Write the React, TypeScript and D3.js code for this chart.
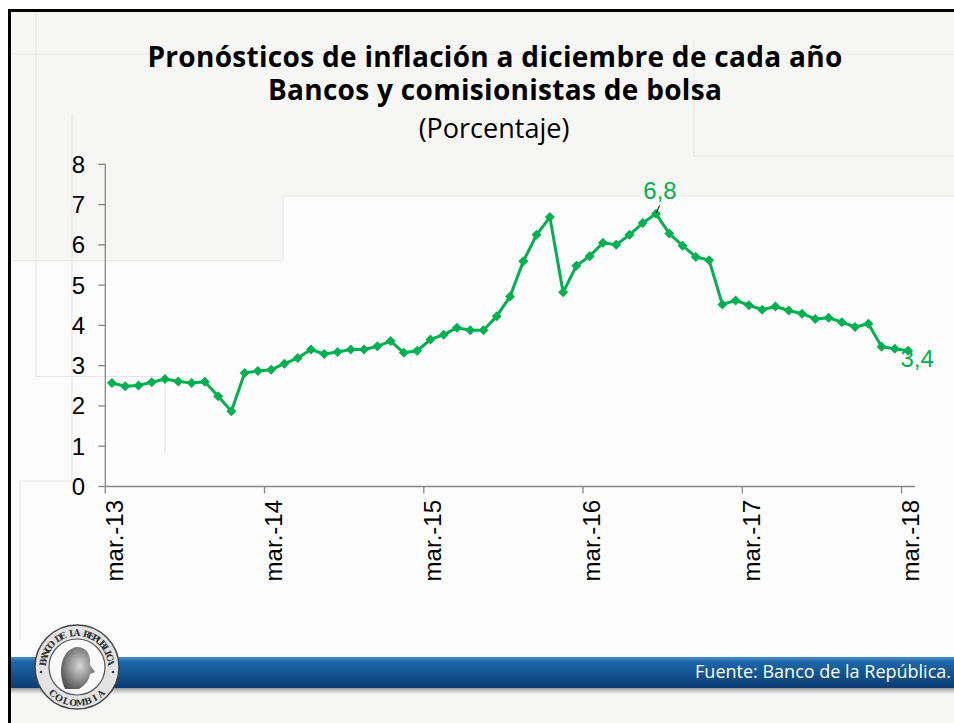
import React from "react";
import * as d3 from "d3";

// monthly observations, mar-13 .. mar-18
const months = d3.timeMonth.range(new Date(2013, 2, 1), new Date(2018, 3, 1));

const forecast = [
  2.57, 2.49, 2.51, 2.59, 2.67, 2.61, 2.57, 2.6, 2.24, 1.87, 2.82, 2.87,
  2.9, 3.05, 3.19, 3.4, 3.29, 3.34, 3.4, 3.4, 3.48, 3.61, 3.32, 3.37,
  3.65, 3.77, 3.94, 3.88, 3.88, 4.23, 4.72, 5.59, 6.25, 6.69, 4.82, 5.48,
  5.72, 6.05, 6.0, 6.25, 6.54, 6.77, 6.28, 5.98, 5.7, 5.62, 4.52, 4.62,
  4.5, 4.39, 4.47, 4.37, 4.29, 4.16, 4.19, 4.08, 3.96, 4.04, 3.47, 3.42,
  3.37,
];

const yTicks = [0, 1, 2, 3, 4, 5, 6, 7, 8];
const monthNames = ["ene.", "feb.", "mar.", "abr.", "may.", "jun.", "jul.", "ago.", "sep.", "oct.", "nov.", "dic."];
const labelledPoints = [41, 60];

const titleLines = ["Pronósticos de inflación a diciembre de cada año", "Bancos y comisionistas de bolsa"];
const subtitle = "(Porcentaje)";
const source = "Fuente: Banco de la República.";
const sealTop = "BANCO DE LA REPUBLICA";
const sealBottom = "COLOMBIA";

const W = 954;
const H = 723;
const green = "#00b050";
const axisGray = "#868686";
const faint = "#e6e6e6";

const fmtMonth = (d: Date) => `${monthNames[d.getMonth()]}-${String(d.getFullYear()).slice(2)}`;
const fmtValue = (v: number) => v.toFixed(1).replace(".", ",");

export default function App() {
  const idx = d3.range(months.length);
  const x = d3.scaleBand<number>().domain(idx).range([105.3, 914.8]);
  const y = d3.scaleLinear().domain([0, 8]).range([486.5, 164.3]);
  const cx = (i: number) => (x(i) as number) + x.bandwidth() / 2;

  const line = d3
    .line<number>()
    .x((_, i) => cx(i))
    .y((d) => y(d));

  const diamond = d3.symbol().type(d3.symbolSquare).size(50)() as string;
  const tickIdx = idx.filter((i) => months[i].getMonth() === 2);

  // seal lettering, one glyph per angle
  const lc = { x: 77, y: 667 };
  const topAngle = d3.scaleLinear().domain([0, sealTop.length - 1]).range([-82, 82]);
  const botAngle = d3.scaleLinear().domain([0, sealBottom.length - 1]).range([42, -42]);

  return (
    <svg
      width={W}
      height={H}
      style={{ position: "absolute", left: 0, top: 0 }}
      xmlns="http://www.w3.org/2000/svg"
    >
      <defs>
        <linearGradient id="band" x1="0" y1="0" x2="0" y2="1">
          <stop offset="0" stopColor="#4a8fcc" />
          <stop offset="0.15" stopColor="#1d67a9" />
          <stop offset="1" stopColor="#0b3c72" />
        </linearGradient>
        <linearGradient id="shadow" x1="0" y1="0" x2="0" y2="1">
          <stop offset="0" stopColor="#9a9a9a" />
          <stop offset="1" stopColor="#f4f4f4" />
        </linearGradient>
        <radialGradient id="head" cx="0.55" cy="0.45" r="0.6">
          <stop offset="0" stopColor="#d8d8d8" />
          <stop offset="1" stopColor="#555" />
        </radialGradient>
      </defs>

      {/* slide background */}
      <rect width={W} height={H} fill="#fff" />
      <rect x={10} y={11} width={W - 10} height={H - 11} fill="#f6f6f5" />
      <path d="M10,260 H283 V196 H954 V657 H10 Z" fill="#fcfcfc" />
      <g fill="none" stroke={faint} strokeWidth={1.2}>
        <path d="M10,260.5 H283 V196 H954" />
        <path d="M694,40 V156 H954" />
        <path d="M36,12 V376.5 H165 V452" />
        <path d="M72,114 V481 H20 V640" />
        <path d="M10,54 H954" />
      </g>
      <path d={`M9.5,${H} V10.5 H${W}`} fill="none" stroke="#000" strokeWidth={3} />

      {/* titles */}
      <g fontFamily="'Open Sans', Lato, sans-serif" textAnchor="middle" fill="#000">
        <text x={495} y={67} fontSize={28} fontWeight={700} letterSpacing={0.3}>
          {titleLines[0]}
        </text>
        <text x={495} y={100} fontSize={28} fontWeight={700} letterSpacing={0.3}>
          {titleLines[1]}
        </text>
        <text x={494} y={138} fontSize={27}>
          {subtitle}
        </text>
      </g>

      {/* y axis */}
      <g fontFamily="'Liberation Sans', Arial, sans-serif" fontSize={24} fill="#000">
        <line x1={105.3} x2={105.3} y1={y(8)} y2={y(0)} stroke={axisGray} strokeWidth={1.3} />
        {yTicks.map((t) => (
          <g key={t}>
            <line x1={98.3} x2={105.3} y1={y(t)} y2={y(t)} stroke={axisGray} strokeWidth={1.3} />
            <text x={85} y={y(t)} dy="0.35em" textAnchor="end">
              {t}
            </text>
          </g>
        ))}
      </g>

      {/* x axis */}
      <g fontFamily="'Liberation Sans', Arial, sans-serif" fontSize={24} fill="#000">
        <line x1={105.3} x2={914.8} y1={y(0)} y2={y(0)} stroke={axisGray} strokeWidth={1.3} />
        {tickIdx.map((i) => (
          <g key={i}>
            <line
              x1={x(i) as number}
              x2={x(i) as number}
              y1={y(0)}
              y2={y(0) + 7}
              stroke={axisGray}
              strokeWidth={1.3}
            />
            <text transform={`translate(${cx(i) + 10.8},500) rotate(-90)`} textAnchor="end">
              {fmtMonth(months[i])}
            </text>
          </g>
        ))}
      </g>

      {/* series */}
      <path d={line(forecast) as string} fill="none" stroke={green} strokeWidth={3} strokeLinejoin="round" />
      {forecast.map((v, i) => (
        <path key={i} d={diamond} transform={`translate(${cx(i)},${y(v)}) rotate(45)`} fill={green} />
      ))}

      {/* data labels */}
      <g fontFamily="'Liberation Sans', Arial, sans-serif" fontSize={24} fill={green} textAnchor="middle">
        <line
          x1={cx(41) + 3.5}
          y1={y(forecast[41]) - 8.5}
          x2={cx(41) + 0.5}
          y2={y(forecast[41]) - 1}
          stroke="#000"
          strokeWidth={1}
        />
        <text x={cx(labelledPoints[0]) + 4} y={y(forecast[labelledPoints[0]]) - 15}>
          {fmtValue(forecast[labelledPoints[0]])}
        </text>
        <text x={cx(labelledPoints[1]) + 9} y={y(forecast[labelledPoints[1]]) + 16.5}>
          {fmtValue(forecast[labelledPoints[1]])}
        </text>
      </g>

      {/* footer band */}
      <rect x={11} y={657} width={W - 11} height={31} fill="url(#band)" />
      <rect x={11} y={688} width={W - 11} height={6} fill="url(#shadow)" />
      <text
        x={951}
        y={678}
        textAnchor="end"
        fontFamily="'Open Sans', Lato, sans-serif"
        fontSize={18}
        fill="#fff"
      >
        {source}
      </text>

      {/* seal */}
      <g>
        <circle cx={lc.x} cy={lc.y} r={42} fill="#e3e3e3" stroke="#444" strokeWidth={1.5} />
        <circle cx={lc.x} cy={lc.y} r={28} fill="#fafafa" stroke="#555" strokeWidth={1.2} />
        <path
          d={`M${lc.x - 12},${lc.y + 22} C${lc.x - 20},${lc.y + 5} ${lc.x - 16},${lc.y - 18} ${lc.x},${lc.y - 20}
             C${lc.x + 12},${lc.y - 20} ${lc.x + 14},${lc.y - 8} ${lc.x + 13},${lc.y - 2}
             L${lc.x + 18},${lc.y + 5} L${lc.x + 13},${lc.y + 7} C${lc.x + 12},${lc.y + 14} ${lc.x + 8},${lc.y + 18} ${lc.x + 2},${lc.y + 22} Z`}
          fill="url(#head)"
        />
        <g fontFamily="'DejaVu Serif', 'Liberation Serif', serif" fontSize={9} fontWeight={700} fill="#333" textAnchor="middle">
          {sealTop.split("").map((ch, i) => (
            <text key={`t${i}`} transform={`translate(${lc.x},${lc.y}) rotate(${topAngle(i)}) translate(0,-31)`}>
              {ch}
            </text>
          ))}
          {sealBottom.split("").map((ch, i) => (
            <text key={`b${i}`} transform={`translate(${lc.x},${lc.y}) rotate(${botAngle(i)}) translate(0,39)`}>
              {ch}
            </text>
          ))}
        </g>
        <circle cx={lc.x - 36} cy={lc.y + 5} r={1.3} fill="#333" />
        <circle cx={lc.x + 36} cy={lc.y + 5} r={1.3} fill="#333" />
      </g>
    </svg>
  );
}
